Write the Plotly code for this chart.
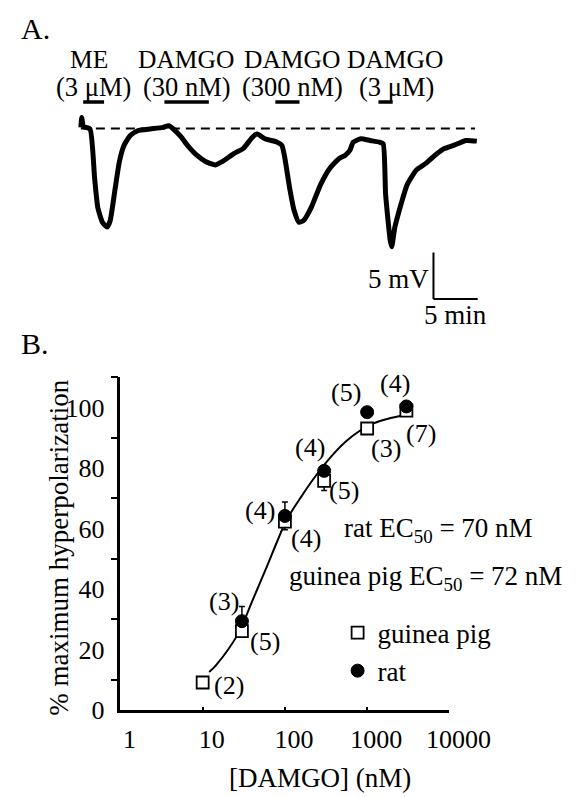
import numpy as np
import plotly.graph_objects as go

W, H = 587, 797

# ---------------- Panel A data (time in min, membrane potential re. baseline in mV)
trace_t = [0.0, 0.1, 0.3, 1.03, 1.55, 1.91, 2.43, 2.96, 3.31, 3.83, 4.35, 4.88, 5.58, 6.45,
           7.85, 9.26, 9.95, 10.65, 11.35, 12.05, 13.10, 14.14, 15.19, 16.24, 17.29, 18.34,
           19.39, 19.92, 20.80, 22.19, 22.72, 23.06, 23.59, 24.11, 24.64, 25.16, 26.04, 27.09,
           28.14, 29.19, 29.88, 30.41, 30.77, 31.64, 32.69, 33.74, 34.16, 34.44, 34.96, 35.13,
           35.49, 36.18, 36.88, 37.93, 38.98, 40.03, 41.08, 42.13, 43.53, 44.75]
trace_v = [0.11, 1.16, 0.2, -0.06, -5.34, -8.50, -10.08, -10.61, -9.92, -6.75, -3.59, -1.82,
           -0.77, -0.24, -0.06, 0.11, 0.28, -0.24, -0.95, -1.82, -2.88, -3.59, -3.93, -3.41,
           -2.70, -2.17, -0.95, -0.59, -1.12, -1.48, -1.82, -3.23, -6.39, -8.86, -10.08, -9.92,
           -8.50, -6.04, -4.28, -3.23, -2.88, -2.35, -1.48, -1.12, -1.30, -1.48, -1.65, -7.10,
           -12.03, -12.72, -10.61, -8.15, -6.04, -4.46, -3.76, -2.88, -2.17, -1.82, -1.30, -1.37]
drug_names = ["ME", "DAMGO", "DAMGO", "DAMGO"]
drug_conc = ["(3 μM)", "(30 nM)", "(300 nM)", "(3 μM)"]
drug_on = [0.26, 9.44, 21.98, 33.63]
drug_off = [2.62, 14.46, 24.71, 35.24]
baseline_v = 0.0
baseline_end = 44.54
scale_mv = 5
scale_min = 5

# ---------------- Panel B data
gp_conc = [10, 30, 100, 300, 1000, 3000]
gp_resp = [9.1, 26.1, 62.3, 75.8, 93.1, 99.0]
gp_err = [0, 1.0, 2.7, 3.2, 1.0, 1.0]
gp_n = ["(2)", "(5)", "(4)", "(5)", "(3)", "(7)"]
rat_conc = [30, 100, 300, 1000, 3000]
rat_resp = [29.4, 64.2, 79.1, 98.5, 100.4]
rat_err = [4.8, 4.6, 1.0, 1.0, 1.0]
rat_n = ["(3)", "(4)", "(4)", "(5)", "(4)"]
fit_conc = [12, 14.4, 27.5, 39, 57.5, 81, 105, 162, 229, 354, 550, 841, 1186, 1832, 2900]
fit_resp = [12.6, 14.7, 25.6, 35.3, 46.1, 55.9, 62.9, 71.0, 76.9, 83.4, 88.8, 92.6, 94.8, 96.4, 97.6]
x_ticks = [1, 10, 100, 1000, 10000]
y_labels = [0, 20, 40, 60, 80, 100]
y_minor = [10, 30, 50, 70, 90, 110]

# ---------------- layout helpers (pixel -> paper)
def px(x):
    return x / W

def py(y):
    return 1 - y / H

FONT = "Liberation Serif, Times New Roman, Times, DejaVu Serif, serif"
black = "black"
FS = 27

fig = go.Figure()

# Panel A trace
fig.add_trace(go.Scatter(x=trace_t, y=trace_v, mode="lines", xaxis="x", yaxis="y",
                         line=dict(color=black, width=5, shape="spline", smoothing=0.5),
                         showlegend=False, hoverinfo="skip"))

# Panel B fit curve
fig.add_trace(go.Scatter(x=fit_conc, y=fit_resp, mode="lines", xaxis="x2", yaxis="y2",
                         line=dict(color=black, width=2, shape="spline"), showlegend=False,
                         hoverinfo="skip"))
# guinea pig
fig.add_trace(go.Scatter(x=gp_conc, y=gp_resp, mode="markers", xaxis="x2", yaxis="y2",
                         name="guinea pig", legendgroup="gp",
                         marker=dict(symbol="square", size=12, color="white",
                                     line=dict(color=black, width=1.8)),
                         error_y=dict(type="data", symmetric=False, array=[0] * len(gp_err),
                                      arrayminus=gp_err, color=black, thickness=1.5, width=3),
                         cliponaxis=False))
# rat
fig.add_trace(go.Scatter(x=rat_conc, y=rat_resp, mode="markers", xaxis="x2", yaxis="y2",
                         name="rat", legendgroup="rat",
                         marker=dict(symbol="circle", size=13, color=black,
                                     line=dict(color=black, width=1)),
                         error_y=dict(type="data", symmetric=False, array=rat_err,
                                      arrayminus=[0] * len(rat_err), color=black,
                                      thickness=1.5, width=3),
                         cliponaxis=False))

shapes = []
# drug application bars
for on, off in zip(drug_on, drug_off):
    shapes.append(dict(type="line", xref="x", yref="y", x0=on, x1=off, y0=2.85, y1=2.85,
                       line=dict(color=black, width=3.5)))
# baseline
shapes.append(dict(type="line", xref="x", yref="y", x0=trace_t[0], x1=baseline_end,
                   y0=baseline_v, y1=baseline_v, line=dict(color=black, width=2, dash="9px,6px")))
# scale bar
sb_t, sb_v = 39.85, -18.35
shapes.append(dict(type="line", xref="x", yref="y", x0=sb_t, x1=sb_t, y0=sb_v, y1=sb_v + scale_mv,
                   line=dict(color=black, width=2)))
shapes.append(dict(type="line", xref="x", yref="y", x0=sb_t, x1=sb_t + scale_min, y0=sb_v, y1=sb_v,
                   line=dict(color=black, width=2)))

ann = []
def text(x, y, s, size=FS, xanchor="center", angle=0):
    ann.append(dict(x=px(x), y=py(y), xref="paper", yref="paper", text=s, showarrow=False,
                    xanchor=xanchor, yanchor="middle", textangle=angle,
                    font=dict(family=FONT, size=size, color=black)))

text(12, 21, "A.", size=30, xanchor="left")
text(12, 342, "B.", size=30, xanchor="left")
name_x = [87.5, 192.0, 306.0, 416.5]
conc_x = [91.7, 192.5, 306, 418.3]
for nm, cx, c, ccx in zip(drug_names, name_x, drug_conc, conc_x):
    text(cx, 52, nm, size=25.5)
    text(ccx, 81, c, size=26.5)
text(455.5, 276.7, f"{scale_mv} mV", xanchor="right")
text(482.5, 313.3, f"{scale_min} min")

# panel B texts
text(336, 785, "[DAMGO] (nM)")
text(55, 550, "% maximum hyperpolarization", size=FS, angle=-90)
text(360, 532, "rat EC<sub>50</sub> = 70 nM", xanchor="left")
text(300, 581, "guinea pig EC<sub>50</sub> = 72 nM", xanchor="left")

gp_off = [(26, -3), (23, -10), (21, -17), (20, -10), (19, -20), (15, -23)]
rat_off = [(-18, 20), (-25, 5), (-14, 23), (-21, 20), (-11, 23)]
for c, r, lab, (dx, dy) in zip(gp_conc, gp_resp, gp_n, gp_off):
    ann.append(dict(x=np.log10(c), y=r, xref="x2", yref="y2", text=lab, showarrow=False,
                    xshift=dx, yshift=dy, font=dict(family=FONT, size=26, color=black)))
for c, r, lab, (dx, dy) in zip(rat_conc, rat_resp, rat_n, rat_off):
    ann.append(dict(x=np.log10(c), y=r, xref="x2", yref="y2", text=lab, showarrow=False,
                    xshift=dx, yshift=dy, font=dict(family=FONT, size=26, color=black)))

fig.update_layout(
    width=W, height=H, margin=dict(l=0, r=0, t=0, b=0),
    paper_bgcolor="white", plot_bgcolor="white",
    font=dict(family=FONT, size=26, color=black),
    xaxis=dict(domain=[px(60), px(560)], range=[-1.941, 50.525], visible=False, anchor="y"),
    yaxis=dict(domain=[py(320), py(30)], range=[-20.812, 9.778], visible=False, anchor="x"),
    xaxis2=dict(domain=[px(121.0), px(475.4)], type="log", range=[-0.001, 4.0], anchor="y2",
                showline=True, linewidth=2.5, linecolor=black, showgrid=False, zeroline=False,
                ticks="inside", ticklen=3, tickwidth=2, tickcolor=black,
                tickvals=x_ticks, ticktext=[str(v) for v in x_ticks],
                tickfont=dict(family=FONT, size=26, color=black), ticklabelshift=9,
                ticklabelstandoff=4),
    yaxis2=dict(domain=[py(715.5), py(376.5)], range=[0, 110], anchor="x2",
                showline=True, linewidth=2.5, linecolor=black, showgrid=False, zeroline=False,
                tickvals=y_labels, ticktext=[str(v) for v in y_labels], ticks="",
                minor=dict(tickvals=y_minor, ticks="outside", ticklen=7, tickwidth=2,
                           tickcolor=black),
                tickfont=dict(family=FONT, size=26, color=black), ticklabelstandoff=8),
    legend=dict(x=px(355), y=py(612), xanchor="left", yanchor="top", bgcolor="rgba(0,0,0,0)",
                font=dict(family=FONT, size=27, color=black), traceorder="grouped",
                tracegroupgap=0, itemclick=False),
    shapes=shapes, annotations=ann, hovermode=False,
)

fig.write_html("out.html")
